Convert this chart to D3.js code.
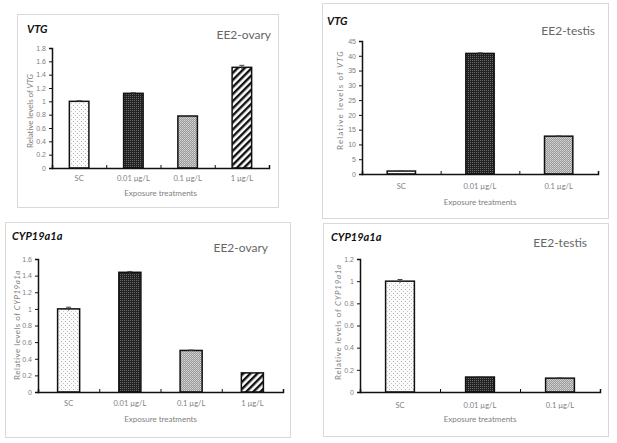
<!DOCTYPE html>
<html><head><meta charset="utf-8">
<script src="https://cdn.jsdelivr.net/npm/d3@7"></script>
<style>
html,body{margin:0;padding:0;background:#fff;}
svg{display:block;font-family:Lato,"Open Sans","Liberation Sans",sans-serif;}
</style></head>
<body><svg id="c" width="617" height="443"></svg>
<script>
// ---- data ----
const catsOvary = ["SC", "0.01 µg/L", "0.1 µg/L", "1 µg/L"];
const catsTestis = ["SC", "0.01 µg/L", "0.1 µg/L"];
const vtgOvary = [1.0, 1.12, 0.78, 1.51];
const vtgOvaryErr = [0.01, 0.01, 0.005, 0.03];
const vtgTestis = [1.0, 40.8, 12.8];
const vtgTestisErr = [0.1, 0.2, 0.1];
const cypOvary = [1.0, 1.44, 0.50, 0.23];
const cypOvaryErr = [0.02, 0.01, 0.005, 0.005];
const cypTestis = [1.0, 0.135, 0.125];
const cypTestisErr = [0.015, 0.003, 0.003];
const ticksVtgOvary = [0, 0.2, 0.4, 0.6, 0.8, 1, 1.2, 1.4, 1.6, 1.8];
const ticksVtgTestis = [0, 5, 10, 15, 20, 25, 30, 35, 40, 45];
const ticksCypOvary = [0, 0.2, 0.4, 0.6, 0.8, 1, 1.2, 1.4, 1.6];
const ticksCypTestis = [0, 0.2, 0.4, 0.6, 0.8, 1, 1.2];

const svg = d3.select("#c");
const defs = svg.append("defs");
// patterns
const p1 = defs.append("pattern").attr("id","pDots").attr("width",4).attr("height",4).attr("patternUnits","userSpaceOnUse");
p1.append("rect").attr("width",4).attr("height",4).attr("fill","#fbfbfb");
p1.append("rect").attr("x",1).attr("y",1).attr("width",1).attr("height",1).attr("fill","#b0b0b0");
p1.append("rect").attr("x",3).attr("y",3).attr("width",1).attr("height",1).attr("fill","#c8c8c8");
const p2 = defs.append("pattern").attr("id","pDark").attr("width",2).attr("height",2).attr("patternUnits","userSpaceOnUse");
p2.append("rect").attr("width",2).attr("height",2).attr("fill","#222");
p2.append("rect").attr("x",0).attr("y",0).attr("width",1).attr("height",1).attr("fill","#6a6a6a");
const p3 = defs.append("pattern").attr("id","pGray").attr("width",2).attr("height",2).attr("patternUnits","userSpaceOnUse");
p3.append("rect").attr("width",2).attr("height",2).attr("fill","#9a9a9a");
p3.append("rect").attr("x",0).attr("y",0).attr("width",1).attr("height",1).attr("fill","#d8d8d8");
p3.append("rect").attr("x",1).attr("y",1).attr("width",1).attr("height",1).attr("fill","#c4c4c4");
const p4 = defs.append("pattern").attr("id","pStripe").attr("width",5).attr("height",5).attr("patternUnits","userSpaceOnUse").attr("patternTransform","rotate(45)");
p4.append("rect").attr("width",5).attr("height",5).attr("fill","#fff");
p4.append("rect").attr("x",0).attr("y",0).attr("width",2.4).attr("height",5).attr("fill","#111");
const fills = ["url(#pDots)","url(#pDark)","url(#pGray)","url(#pStripe)"];

const panels = [
 {box:[17,14,278,207], x0:52, x1:269, y0:168, y1:48, max:1.8, ticks:ticksVtgOvary, cats:catsOvary, vals:vtgOvary, errs:vtgOvaryErr,
  gene:"VTG", gx:27, gy:33, tag:"EE2-ovary", tx:271, ty:39, xly:181, xty:196, ylx:30, yly:111, yll:74},
 {box:[322,3,608,218], x0:362, x1:598, y0:174, y1:41, max:45, ticks:ticksVtgTestis, cats:catsTestis, vals:vtgTestis, errs:vtgTestisErr,
  gene:"VTG", gx:327, gy:25, tag:"EE2-testis", tx:595, ty:35, xly:189, xty:205, ylx:340, yly:100, yll:100},
 {box:[5,222,290,437], x0:38, x1:283, y0:392, y1:259, max:1.6, ticks:ticksCypOvary, cats:catsOvary, vals:cypOvary, errs:cypOvaryErr,
  gene:"CYP19a1a", gx:12, gy:240, tag:"EE2-ovary", tx:268, ty:252, xly:406, xty:422, ylx:17, yly:325, yll:110},
 {box:[323,223,608,436], x0:360, x1:600, y0:392, y1:259, max:1.2, ticks:ticksCypTestis, cats:catsTestis, vals:cypTestis, errs:cypTestisErr,
  gene:"CYP19a1a", gx:331, gy:241, tag:"EE2-testis", tx:587, ty:247, xly:408, xty:422, ylx:338, yly:322, yll:116}
];

const grey = "#808080";
panels.forEach(p => {
  const g = svg.append("g");
  g.append("rect").attr("x",p.box[0]+0.5).attr("y",p.box[1]+0.5)
   .attr("width",p.box[2]-p.box[0]).attr("height",p.box[3]-p.box[1])
   .attr("fill","#fff").attr("stroke","#d9d9d9").attr("stroke-width",1);
  const x = d3.scaleBand().domain(p.cats).range([p.x0,p.x1]).paddingInner(0.64).paddingOuter(0.32);
  const y = d3.scaleLinear().domain([0,p.max]).range([p.y0,p.y1]);
  // bars
  g.selectAll(".bar").data(p.vals).join("rect")
   .attr("x",(d,i)=>x(p.cats[i])).attr("width",x.bandwidth())
   .attr("y",d=>y(d)).attr("height",d=>y(0)-y(d))
   .attr("fill",(d,i)=>fills[i]).attr("stroke","#111").attr("stroke-width",1.5);
  // error bars
  p.vals.forEach((v,i)=>{
    const cx = x(p.cats[i]) + x.bandwidth()/2;
    g.append("line").attr("x1",cx).attr("x2",cx).attr("y1",y(v-p.errs[i])).attr("y2",y(v+p.errs[i])).attr("stroke","#444").attr("stroke-width",1);
    g.append("line").attr("x1",cx-2.5).attr("x2",cx+2.5).attr("y1",y(v+p.errs[i])).attr("y2",y(v+p.errs[i])).attr("stroke","#444").attr("stroke-width",1);
  });
  // y axis
  const ya = g.append("g").attr("transform",`translate(${p.x0},0)`)
   .call(d3.axisLeft(y).tickValues(p.ticks).tickSize(3).tickPadding(3).tickFormat(d3.format("~g")));
  ya.select(".domain").attr("stroke","#111").attr("stroke-width",1.5);
  ya.selectAll(".tick line").attr("stroke","#111");
  ya.selectAll("text").attr("fill",grey).style("font-size","7px");
  // x axis
  const xl = d3.scalePoint().domain(d3.range(p.cats.length+1)).range([p.x0,p.x1]);
  const xa = g.append("g").attr("transform",`translate(0,${p.y0})`)
   .call(d3.axisBottom(xl).tickSize(-3).tickFormat(""));
  xa.select(".domain").attr("stroke","#111").attr("stroke-width",1.5);
  xa.selectAll(".tick line").attr("stroke","#111");
  g.selectAll(".xl").data(p.cats).join("text")
   .attr("x",d=>x(d)+x.bandwidth()/2).attr("y",p.xly).attr("text-anchor","middle")
   .attr("fill",grey).style("font-size","7.5px").text(d=>d);
  g.append("text").attr("x",(p.x0+p.x1)/2).attr("y",p.xty).attr("text-anchor","middle")
   .attr("fill",grey).style("font-size","8px").text("Exposure treatments");
  // y label (baseline placed so glyphs sit centred on ylx)
  const yl = g.append("text").attr("transform",`translate(${p.ylx+3},${p.yly}) rotate(-90)`)
   .attr("text-anchor","middle").attr("fill",grey).style("font-size","8px");
  yl.append("tspan").text("Relative levels of ");
  yl.append("tspan").style("font-style","italic").text(p.gene);
  const len = yl.node().getComputedTextLength();
  const n = ("Relative levels of " + p.gene).length;
  const ls = Math.max(-0.3, (p.yll - len) / n);
  yl.style("letter-spacing", ls + "px");
  // titles
  g.append("text").attr("x",p.gx).attr("y",p.gy).style("font-size","11px").style("font-weight","bold")
   .style("font-style","italic").attr("fill","#111").text(p.gene);
  g.append("text").attr("x",p.tx).attr("y",p.ty).attr("text-anchor","end").style("font-size","12px")
   .attr("fill","#666").text(p.tag);
});
</script></body></html>
